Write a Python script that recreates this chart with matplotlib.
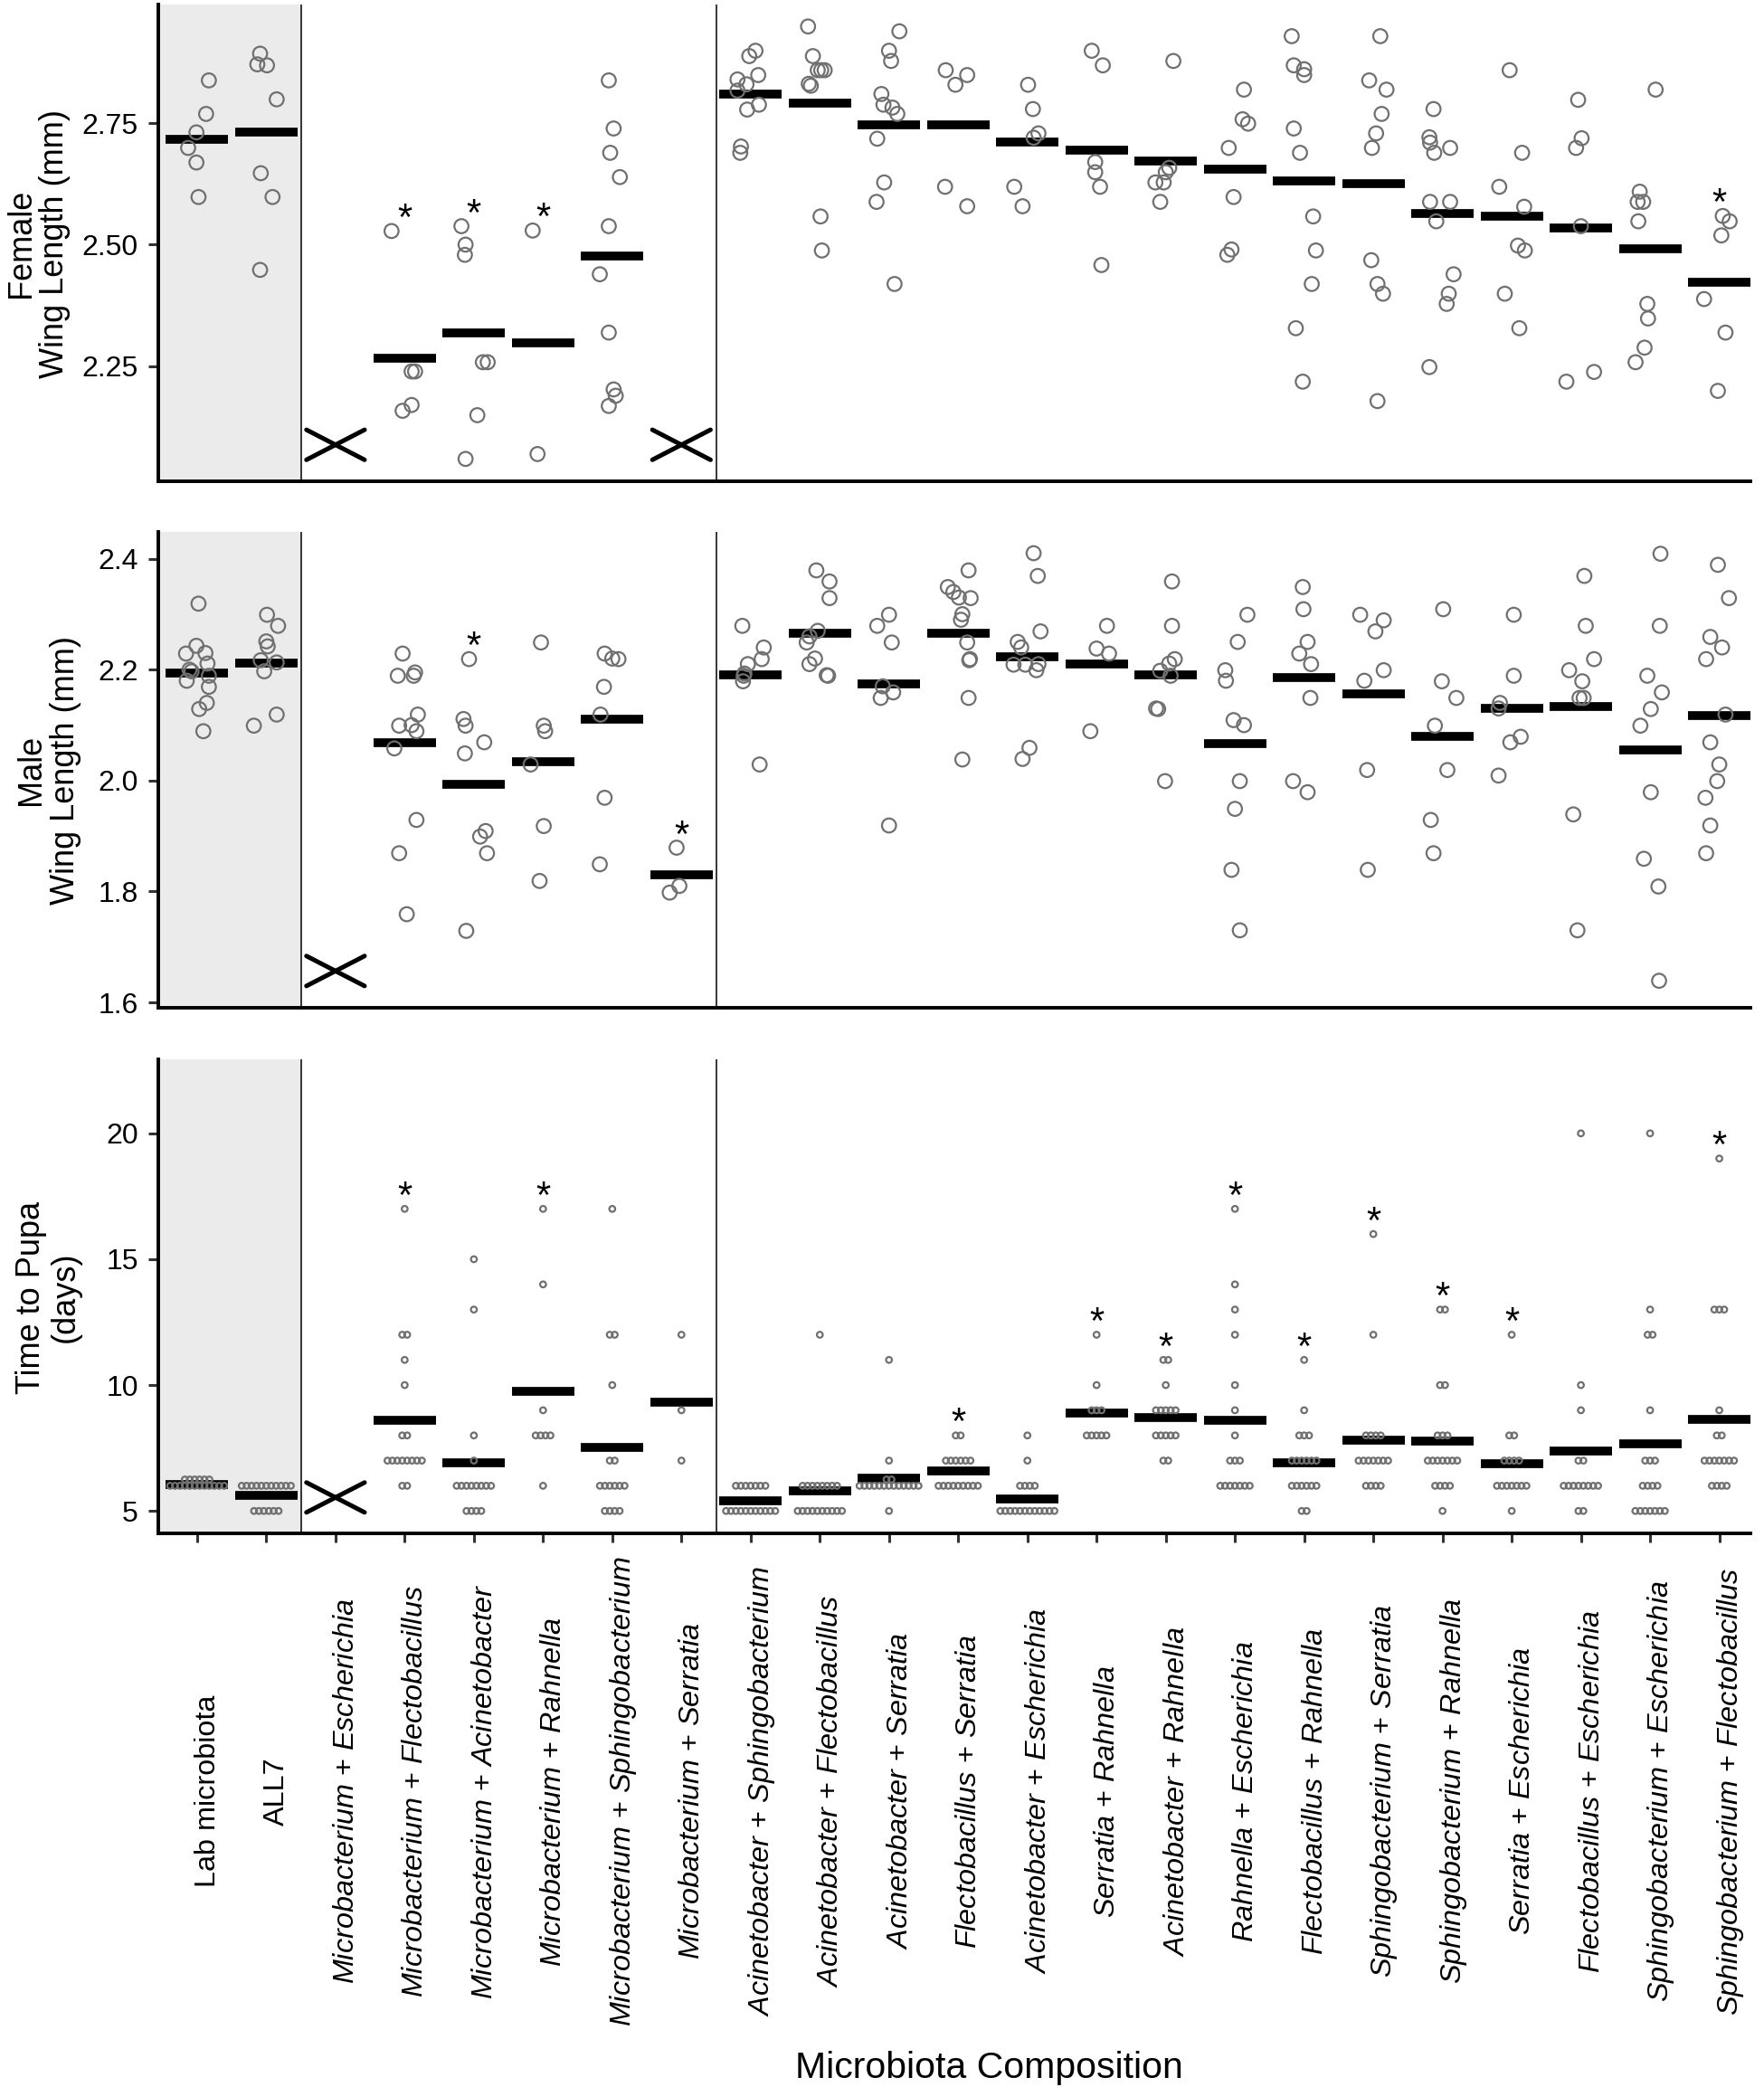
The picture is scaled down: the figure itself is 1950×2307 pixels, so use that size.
import matplotlib.pyplot as plt
import matplotlib.transforms as mtransforms

plt.rcParams["font.family"] = ["Liberation Sans", "DejaVu Sans"]
plt.rcParams["mathtext.fontset"] = "custom"
plt.rcParams["mathtext.rm"] = "Liberation Sans"
plt.rcParams["mathtext.it"] = "Liberation Sans:italic"
plt.rcParams["mathtext.bf"] = "Liberation Sans:bold"

groups = [
    "Lab microbiota", "ALL7",
    "Microbacterium + Escherichia", "Microbacterium + Flectobacillus",
    "Microbacterium + Acinetobacter", "Microbacterium + Rahnella",
    "Microbacterium + Sphingobacterium", "Microbacterium + Serratia",
    "Acinetobacter + Sphingobacterium", "Acinetobacter + Flectobacillus",
    "Acinetobacter + Serratia", "Flectobacillus + Serratia",
    "Acinetobacter + Escherichia", "Serratia + Rahnella",
    "Acinetobacter + Rahnella", "Rahnella + Escherichia",
    "Flectobacillus + Rahnella", "Sphingobacterium + Serratia",
    "Sphingobacterium + Rahnella", "Serratia + Escherichia",
    "Flectobacillus + Escherichia", "Sphingobacterium + Escherichia",
    "Sphingobacterium + Flectobacillus",
]

# female wing length (mm), one list per group, with the horizontal jitter
female_vals = [
    [2.838, 2.769, 2.731, 2.699, 2.669, 2.598],
    [2.893, 2.871, 2.869, 2.799, 2.647, 2.598, 2.448],
    [],
    [2.528, 2.239, 2.239, 2.158, 2.170],
    [2.538, 2.500, 2.479, 2.258, 2.258, 2.149, 2.059],
    [2.529, 2.069],
    [2.838, 2.739, 2.689, 2.639, 2.538, 2.439, 2.319, 2.202, 2.189, 2.168],
    [],
    [2.899, 2.888, 2.849, 2.840, 2.830, 2.817, 2.788, 2.778, 2.702, 2.689],
    [2.949, 2.888, 2.859, 2.859, 2.859, 2.831, 2.827, 2.558, 2.488],
    [2.939, 2.899, 2.878, 2.810, 2.788, 2.782, 2.769, 2.718, 2.628, 2.588, 2.419],
    [2.859, 2.849, 2.829, 2.619, 2.579],
    [2.829, 2.779, 2.729, 2.720, 2.619, 2.579],
    [2.899, 2.869, 2.670, 2.649, 2.619, 2.458],
    [2.878, 2.658, 2.649, 2.628, 2.628, 2.588],
    [2.819, 2.758, 2.749, 2.699, 2.598, 2.490, 2.479],
    [2.929, 2.869, 2.861, 2.849, 2.739, 2.689, 2.558, 2.488, 2.419, 2.328, 2.218],
    [2.929, 2.838, 2.819, 2.769, 2.729, 2.699, 2.468, 2.419, 2.399, 2.178],
    [2.779, 2.721, 2.710, 2.689, 2.699, 2.588, 2.588, 2.548, 2.439, 2.399, 2.378, 2.248],
    [2.859, 2.689, 2.619, 2.578, 2.498, 2.488, 2.399, 2.328],
    [2.798, 2.719, 2.699, 2.538, 2.238, 2.218],
    [2.819, 2.609, 2.588, 2.588, 2.548, 2.378, 2.348, 2.288, 2.258],
    [2.559, 2.548, 2.519, 2.388, 2.319, 2.199],
]
female_dx = [
    [0.17, 0.13, -0.01, -0.13, -0.01, 0.02],
    [-0.09, -0.13, 0.01, 0.15, -0.08, 0.09, -0.09],
    [],
    [-0.19, 0.10, 0.15, -0.03, 0.10],
    [-0.18, -0.12, -0.13, 0.13, 0.20, 0.05, -0.12],
    [-0.15, -0.08],
    [-0.05, 0.02, -0.03, 0.11, -0.05, -0.18, -0.05, 0.02, 0.05, -0.05],
    [],
    [0.07, -0.02, 0.11, -0.19, -0.06, -0.19, 0.12, -0.05, -0.14, -0.15],
    [-0.17, -0.10, -0.03, 0.02, 0.07, -0.16, -0.13, 0.01, 0.03],
    [0.15, 0.0, 0.03, -0.11, -0.08, 0.05, 0.12, -0.17, -0.07, -0.18, 0.08],
    [-0.18, 0.13, -0.04, -0.19, 0.13],
    [0.01, 0.08, 0.16, 0.09, -0.19, -0.07],
    [-0.07, 0.09, -0.02, -0.02, 0.05, 0.07],
    [0.11, 0.05, 0.0, -0.15, -0.03, -0.08],
    [0.13, 0.11, 0.19, -0.09, -0.02, -0.05, -0.11],
    [-0.18, -0.15, 0.0, 0.0, -0.15, -0.06, 0.13, 0.17, 0.11, -0.12, -0.02],
    [0.10, -0.06, 0.19, 0.12, 0.04, -0.02, -0.03, 0.06, 0.14, 0.06],
    [-0.13, -0.19, -0.18, -0.12, 0.11, -0.18, 0.11, -0.09, 0.16, 0.09, 0.06, -0.19],
    [-0.03, 0.15, -0.18, 0.18, 0.09, 0.19, -0.10, 0.11],
    [-0.04, 0.01, -0.07, 0.0, 0.19, -0.21],
    [0.08, -0.15, -0.18, -0.10, -0.17, -0.04, -0.03, -0.08, -0.21],
    [0.05, 0.15, 0.03, -0.22, 0.09, -0.02],
]
female_mean = [2.717, 2.732, None, 2.266, 2.319, 2.298, 2.476, None,
               2.809, 2.792, 2.747, 2.747, 2.712, 2.694, 2.672, 2.655,
               2.631, 2.625, 2.565, 2.558, 2.535, 2.492, 2.422]
female_star = [3, 4, 5, 22]
female_missing = [2, 7]

# male wing length (mm)
male_vals = [
    [2.319, 2.243, 2.229, 2.230, 2.211, 2.200, 2.197, 2.189, 2.180, 2.169, 2.140, 2.129, 2.089],
    [2.299, 2.279, 2.251, 2.242, 2.217, 2.213, 2.197, 2.099, 2.119],
    [],
    [2.229, 2.189, 2.189, 2.195, 2.119, 2.099, 2.100, 2.089, 2.058, 1.929, 1.869, 1.759],
    [2.219, 2.111, 2.099, 2.069, 2.049, 1.909, 1.899, 1.869, 1.729],
    [2.249, 2.099, 2.089, 2.029, 1.918, 1.819],
    [2.229, 2.220, 2.219, 2.169, 2.119, 1.969, 1.849],
    [1.879, 1.810, 1.798],
    [2.279, 2.240, 2.219, 2.210, 2.193, 2.189, 2.179, 2.029],
    [2.379, 2.359, 2.329, 2.270, 2.260, 2.249, 2.220, 2.210, 2.190, 2.189],
    [2.299, 2.279, 2.249, 2.170, 2.159, 2.149, 1.919],
    [2.379, 2.349, 2.340, 2.330, 2.329, 2.300, 2.290, 2.249, 2.219, 2.217, 2.149, 2.038],
    [2.410, 2.369, 2.269, 2.250, 2.240, 2.209, 2.209, 2.210, 2.199, 2.059, 2.039],
    [2.279, 2.238, 2.229, 2.089],
    [2.359, 2.279, 2.219, 2.211, 2.198, 2.189, 2.130, 2.129, 1.999],
    [2.299, 2.250, 2.199, 2.180, 2.109, 2.100, 1.999, 1.949, 1.839, 1.730],
    [2.349, 2.309, 2.250, 2.229, 2.210, 2.149, 1.999, 1.979],
    [2.299, 2.289, 2.269, 2.199, 2.180, 2.019, 1.839],
    [2.309, 2.179, 2.149, 2.099, 2.019, 1.929, 1.869],
    [2.299, 2.189, 2.140, 2.130, 2.079, 2.069, 2.009],
    [2.369, 2.279, 2.219, 2.199, 2.179, 2.149, 2.149, 1.939, 1.730],
    [2.409, 2.279, 2.189, 2.159, 2.129, 2.099, 1.979, 1.859, 1.809, 1.639],
    [2.389, 2.329, 2.259, 2.240, 2.219, 2.119, 2.069, 2.029, 1.999, 1.969, 1.919, 1.869],
]
male_dx = [
    [0.02, -0.01, -0.16, 0.12, 0.15, -0.11, -0.08, 0.17, -0.15, 0.17, 0.14, 0.03, 0.09],
    [0.01, 0.17, 0.0, 0.02, -0.08, 0.15, -0.03, -0.18, 0.15],
    [],
    [-0.03, -0.10, 0.13, 0.15, 0.19, -0.08, 0.10, 0.17, -0.15, 0.17, -0.08, 0.03],
    [-0.07, -0.15, -0.12, 0.15, -0.13, 0.17, 0.09, 0.19, -0.11],
    [-0.03, 0.01, 0.03, -0.18, 0.01, -0.05],
    [-0.11, 0.0, 0.09, -0.12, -0.17, -0.11, -0.18],
    [-0.07, -0.03, -0.17],
    [-0.12, 0.19, 0.16, -0.04, -0.09, -0.10, -0.11, 0.13],
    [-0.05, 0.14, 0.14, -0.03, -0.15, -0.19, -0.07, -0.15, 0.10, 0.12],
    [0.0, -0.17, 0.04, -0.09, 0.06, -0.12, 0.0],
    [0.15, -0.15, -0.07, 0.01, 0.18, 0.06, 0.04, 0.13, 0.17, 0.16, 0.15, 0.06],
    [0.09, 0.15, 0.19, -0.14, -0.09, -0.20, -0.03, 0.16, 0.13, 0.03, -0.07],
    [0.15, 0.0, 0.18, -0.09],
    [0.09, 0.09, 0.13, 0.05, -0.08, 0.07, -0.14, -0.11, -0.01],
    [0.18, 0.04, -0.14, -0.13, -0.02, 0.13, 0.07, 0.0, -0.05, 0.07],
    [-0.02, -0.01, 0.05, -0.07, 0.10, 0.09, -0.16, 0.05],
    [-0.19, 0.15, 0.03, 0.15, -0.13, -0.09, -0.08],
    [0.01, -0.01, 0.20, -0.11, 0.07, -0.17, -0.13],
    [0.03, 0.03, -0.17, -0.19, 0.13, -0.02, -0.19],
    [0.05, 0.07, 0.19, -0.17, 0.02, -0.02, 0.04, -0.11, -0.05],
    [0.15, 0.14, -0.04, 0.17, 0.01, -0.14, 0.01, -0.09, 0.12, 0.13],
    [-0.02, 0.14, -0.13, 0.04, -0.19, 0.09, -0.13, 0.0, -0.03, -0.20, -0.13, -0.19],
]
male_mean = [2.194, 2.211, None, 2.069, 1.994, 2.034, 2.111, 1.830,
             2.191, 2.266, 2.174, 2.266, 2.224, 2.210, 2.190, 2.066,
             2.185, 2.156, 2.079, 2.130, 2.134, 2.055, 2.117]
male_star = [4, 7]
male_missing = [2]

# time to pupa (days): number of larvae per day for each group
pupa_counts = [
    {6.25: 6, 6: 12},
    {6: 11, 5: 6},
    {},
    {17: 1, 12: 2, 11: 1, 10: 1, 8: 2, 7: 8, 6: 2},
    {15: 1, 13: 1, 8: 1, 7: 1, 6: 8, 5: 4},
    {17: 1, 14: 1, 9: 1, 8: 4, 6: 1},
    {17: 1, 12: 2, 10: 1, 7: 2, 6: 6, 5: 4},
    {12: 1, 9: 1, 7: 1},
    {6: 7, 5: 11},
    {12: 1, 6: 8, 5: 10},
    {11: 1, 7: 1, 6.25: 2, 6: 13, 5: 1},
    {8: 2, 7: 6, 6: 9},
    {8: 1, 7: 1, 6: 4, 5: 12},
    {12: 1, 10: 1, 9: 3, 8: 5},
    {11: 2, 10: 1, 9: 5, 8: 5, 7: 2},
    {17: 1, 14: 1, 13: 1, 12: 1, 10: 1, 9: 1, 8: 1, 7: 3, 6: 7},
    {11: 1, 9: 1, 8: 3, 7: 6, 6: 6, 5: 2},
    {16: 1, 12: 1, 8: 4, 7: 7, 6: 4},
    {13: 2, 10: 2, 8: 3, 7: 7, 6: 4, 5: 1},
    {12: 1, 8: 2, 7: 4, 6: 7, 5: 1},
    {20: 1, 10: 1, 9: 1, 7: 2, 6: 8, 5: 2},
    {20: 1, 13: 1, 12: 2, 9: 1, 7: 3, 6: 4, 5: 7},
    {19: 1, 13: 3, 9: 1, 8: 2, 7: 7, 6: 4},
]
pupa_mean = [6.05, 5.63, None, 8.59, 6.93, 9.74, 7.52, 9.32,
             5.39, 5.79, 6.30, 6.59, 5.49, 8.90, 8.72, 8.59,
             6.93, 7.81, 7.77, 6.86, 7.39, 7.68, 8.65]
pupa_star = [3, 5, 11, 13, 14, 15, 16, 17, 18, 19, 22]
pupa_missing = [2]


def jitter(vals, dx):
    xs, ys = [], []
    for i, (v, d) in enumerate(zip(vals, dx)):
        xs += [i + o for o in d]
        ys += v
    return xs, ys


def stack(counts, step=0.071):
    xs, ys = [], []
    for i, rows in enumerate(counts):
        for day, n in rows.items():
            for k in range(n):
                xs.append(i + (k - (n - 1) / 2) * step)
                ys.append(day)
    return xs, ys


def fmt(name):
    if " + " not in name:
        return name
    a, b = name.split(" + ")
    return rf"$\mathit{{{a}}}$ + $\mathit{{{b}}}$"


fig = plt.figure(figsize=(19.5, 23.07), dpi=100)
left, width = 0.0897, 0.9026
ax1 = fig.add_axes([left, 0.7694, width, 0.2284])
ax2 = fig.add_axes([left, 0.5173, width, 0.2280])
ax3 = fig.add_axes([left, 0.2651, width, 0.2273])


def setup(ax, ylim, yticks, yfmt):
    ax.set_xlim(-0.562, 22.45)
    ax.set_ylim(*ylim)
    ax.axvspan(-0.6, 1.5, color="#ebebeb", zorder=0, lw=0)
    for xv in (1.5, 7.5):
        ax.axvline(xv, color="black", lw=1.1, zorder=1)
    for s in ("top", "right"):
        ax.spines[s].set_visible(False)
    for s in ("left", "bottom"):
        ax.spines[s].set_linewidth(2.8)
        ax.spines[s].set_color("black")
    ax.set_yticks(yticks)
    ax.set_yticklabels([yfmt.format(t) for t in yticks])
    ax.tick_params(axis="y", length=8, width=2.2, color="#333333", pad=8, labelsize=23)


def means_and_marks(ax, means, stars, missing, tops):
    for i, m in enumerate(means):
        if m is not None:
            ax.plot([i - 0.45, i + 0.45], [m, m], color="black", lw=7,
                    solid_capstyle="butt", zorder=3)
    for i in stars:
        ax.annotate("*", (i, tops[i]), xytext=(0, 1), textcoords="offset points",
                    ha="center", va="baseline", fontsize=30, zorder=5)
    trans = mtransforms.blended_transform_factory(ax.transData, ax.transAxes)
    for i in missing:
        ax.plot([i - 0.42, i + 0.42], [0.045, 0.108], color="black", lw=3.6,
                solid_capstyle="round", transform=trans, zorder=5)
        ax.plot([i - 0.42, i + 0.42], [0.108, 0.045], color="black", lw=3.6,
                solid_capstyle="round", transform=trans, zorder=5)


# female panel
setup(ax1, (2.013, 2.994), [2.25, 2.50, 2.75], "{:.2f}")
fx, fy = jitter(female_vals, female_dx)
ax1.scatter(fx, fy, s=125, facecolors="none", edgecolors="#707070", linewidths=1.6, zorder=4)
means_and_marks(ax1, female_mean, female_star, female_missing,
                [max(v) if v else None for v in female_vals])
ax1.set_xticks([])

# male panel
setup(ax2, (1.591, 2.449), [1.6, 1.8, 2.0, 2.2, 2.4], "{:.1f}")
mx, my = jitter(male_vals, male_dx)
ax2.scatter(mx, my, s=125, facecolors="none", edgecolors="#707070", linewidths=1.6, zorder=4)
means_and_marks(ax2, male_mean, male_star, male_missing,
                [max(v) if v else None for v in male_vals])
ax2.set_xticks([])

# time to pupa panel
setup(ax3, (4.095, 22.94), [5, 10, 15, 20], "{:d}")
px, py = stack(pupa_counts)
ax3.scatter(px, py, s=22, facecolors="none", edgecolors="#707070", linewidths=1.6, zorder=4)
means_and_marks(ax3, pupa_mean, pupa_star, pupa_missing,
                [max(c) if c else None for c in pupa_counts])
ax3.set_xticks(range(len(groups)))
ax3.set_xticklabels([""] * len(groups))
ax3.tick_params(axis="x", length=7, width=2.2, color="#333333")

lab_tr = mtransforms.blended_transform_factory(ax3.transData, fig.transFigure) + \
    mtransforms.ScaledTranslation(0.12, 0, fig.dpi_scale_trans)
for i, g in enumerate(groups):
    ax3.text(i, 0.1417, fmt(g), transform=lab_tr, rotation=90, ha="center", va="center",
             fontsize=23.3, clip_on=False)

fig.text(0.0215, 1 - 269 / 2307, "Female\nWing Length (mm)", rotation=90, ha="center",
         va="center", multialignment="center", fontsize=26, linespacing=1.1)
fig.text(0.0274, 1 - 851 / 2307, "Male\nWing Length (mm)", rotation=90, ha="center",
         va="center", multialignment="center", fontsize=26, linespacing=1.1)
fig.text(0.0274, 1 - 1434 / 2307, "Time to Pupa\n(days)", rotation=90, ha="center",
         va="center", multialignment="center", fontsize=26, linespacing=1.1)
fig.text(1093 / 1950, 1 - 2297 / 2307, "Microbiota Composition", ha="center",
         va="baseline", fontsize=29.5)

fig.savefig("out.png", dpi=100)
